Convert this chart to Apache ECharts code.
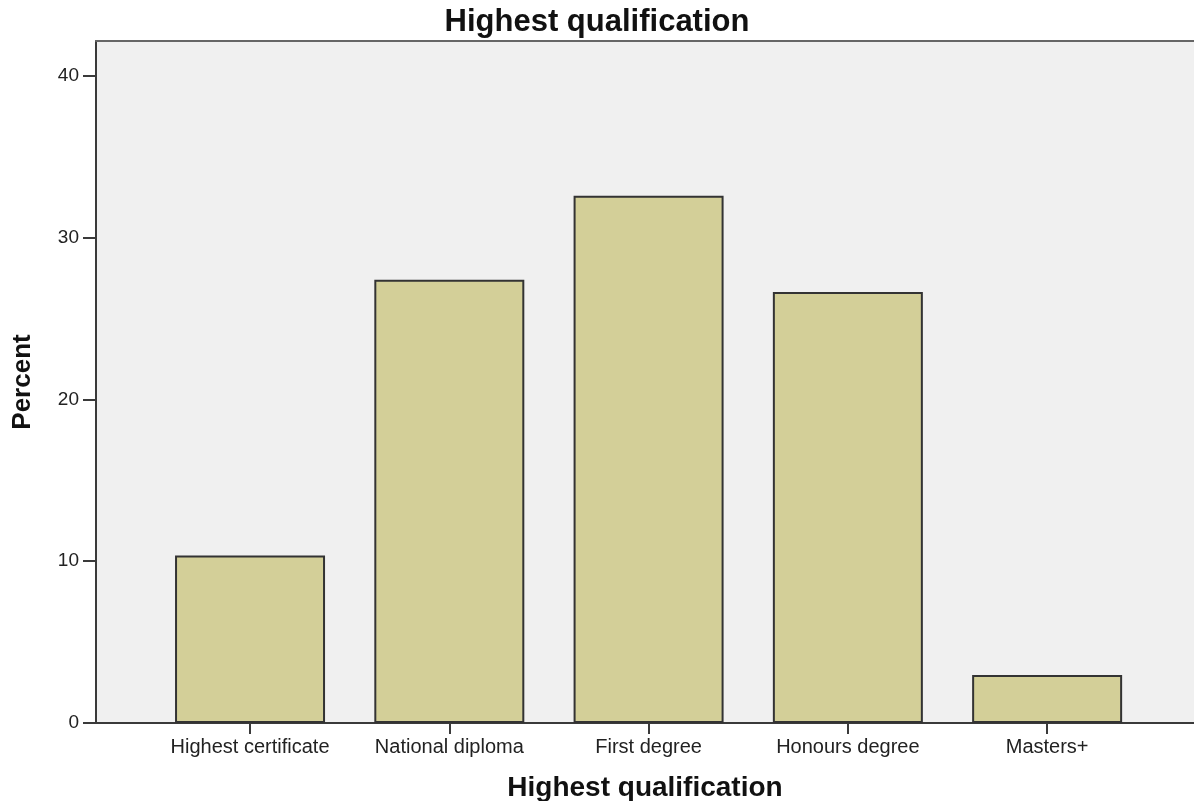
<!DOCTYPE html>
<html>
<head>
<meta charset="utf-8">
<title>Highest qualification</title>
<script src="https://cdn.jsdelivr.net/npm/echarts@6/dist/echarts.min.js"></script>
<style>
  html, body { margin: 0; padding: 0; background: #fff; }
  #chart { width: 1194px; height: 801px; }
</style>
</head>
<body>
<div id="chart"></div>
<script>
// values
const categories = ['Highest certificate', 'National diploma', 'First degree', 'Honours degree', 'Masters+']
const percents = [10.35, 27.40, 32.59, 26.63, 2.97]
const yTicks = [0, 10, 20, 30, 40]
const catPositions = categories.map((c, i) => i)

const font = 'Arial, "Liberation Sans", sans-serif'
const axisColor = '#3a3a3a'

const myChart = echarts.init(document.getElementById('chart'))

const option = {
  backgroundColor: '#fff',
  animation: false,
  title: {
    text: 'Highest qualification',
    left: 'center',
    top: 2,
    textStyle: { fontFamily: font, fontSize: 31, fontWeight: 'bold', color: '#111' }
  },
  grid: {
    left: 96, right: 0, top: 41, bottom: 78,
    outerBoundsMode: 'none',
    containLabel: false,
    show: true, backgroundColor: '#f0f0f0', borderWidth: 0
  },
  xAxis: [
    {
      type: 'value',
      min: -0.773,
      max: 4.737,
      name: 'Highest qualification',
      nameLocation: 'middle',
      nameGap: 51,
      nameTextStyle: { fontFamily: font, fontSize: 28, fontWeight: 'bold', color: '#111' },
      splitLine: { show: false },
      axisLine: { show: true, onZero: false, lineStyle: { color: axisColor, width: 2 } },
      axisTick: { show: true, customValues: catPositions, length: 11, lineStyle: { color: axisColor, width: 2 } },
      axisLabel: {
        customValues: catPositions,
        formatter: v => categories[v] || '',
        fontFamily: font, fontSize: 20, color: '#222', margin: 14
      }
    },
    {
      // top frame line of the plot
      type: 'value',
      position: 'top',
      min: -0.773,
      max: 4.737,
      splitLine: { show: false },
      axisLine: { show: true, onZero: false, lineStyle: { color: '#666', width: 2 } },
      axisTick: { show: false },
      axisLabel: { show: false }
    }
  ],
  yAxis: {
    type: 'value',
    min: 0,
    max: 42.15,
    name: 'Percent',
    nameLocation: 'middle',
    nameGap: 60,
    nameTextStyle: { fontFamily: font, fontSize: 26, fontWeight: 'bold', color: '#111' },
    splitLine: { show: false },
    axisLine: { show: true, onZero: false, lineStyle: { color: axisColor, width: 2 } },
    axisTick: { show: true, customValues: yTicks, length: 13, lineStyle: { color: axisColor, width: 2 } },
    axisLabel: { customValues: yTicks, fontFamily: font, fontSize: 19, color: '#222', margin: 17 }
  },
  series: [
    {
      type: 'bar',
      xAxisIndex: 0,
      barWidth: 150,
      data: percents.map((v, i) => [i, v]),
      itemStyle: { color: '#d3cf98', borderColor: '#333', borderWidth: 2 }
    }
  ]
}

myChart.setOption(option)
window.addEventListener('resize', () => myChart.resize())
</script>
</body>
</html>
